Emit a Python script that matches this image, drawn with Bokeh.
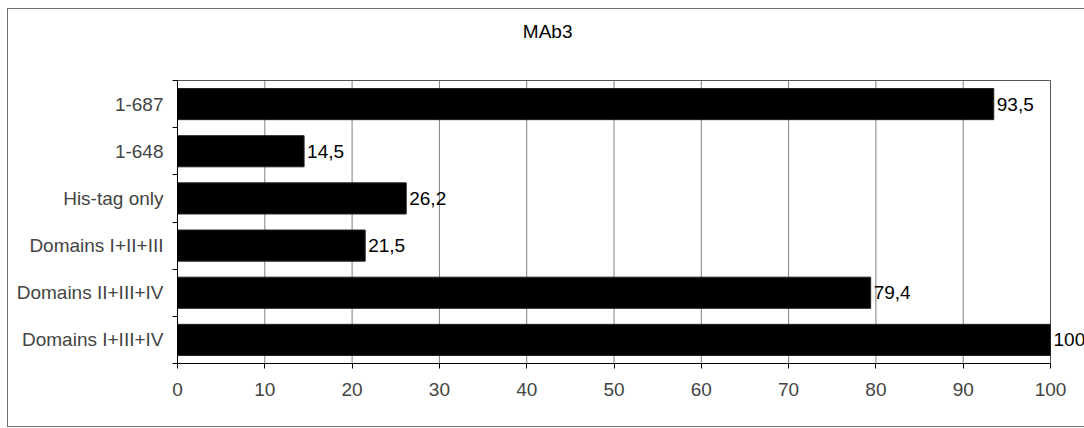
from bokeh.plotting import figure
from bokeh.models import ColumnDataSource, FixedTicker, Range1d
from bokeh.core.properties import value
from bokeh.embed import file_html
from bokeh.resources import INLINE

title_text = "MAb3"
categories = ["1-687", "1-648", "His-tag only", "Domains I+II+III",
              "Domains II+III+IV", "Domains I+III+IV"]
values = [93.5, 14.5, 26.2, 21.5, 79.4, 100]
value_labels = ["93,5", "14,5", "26,2", "21,5", "79,4", "100"]
x_ticks = [0, 10, 20, 30, 40, 50, 60, 70, 80, 90, 100]

FONT = "Liberation Sans"
FS = "19px"

n = len(categories)
x_max = x_ticks[-1]
ypos = [n - 1 - i + 0.5 for i in range(n)]
src = ColumnDataSource(dict(y=ypos, v=values, lab=value_labels, cat=categories))

# frame: left 177, right 1084, top 9, bottom 363 (page px)
FRAME_W, FRAME_H = 907, 354
PLOT_W, PLOT_H = 873, 283          # the 0..100 x 0..6 area
x_end = FRAME_W / (PLOT_W / x_max)
y_end = FRAME_H / (PLOT_H / n)

p = figure(width=1076, height=417, output_backend="svg", toolbar_location=None,
           x_range=Range1d(0, x_end), y_range=Range1d(0, y_end),
           min_border_left=169, min_border_right=0, min_border_top=0,
           min_border_bottom=63, frame_width=FRAME_W, frame_height=FRAME_H)

# grid lines (inside plot area only)
inner = x_ticks[1:-1]
p.segment(x0=inner, y0=[0] * len(inner), x1=inner, y1=[n] * len(inner),
          line_color="#808080", line_width=1)
# plot-area outline: top and right
p.segment(x0=[0, x_max], y0=[n, 0], x1=[x_max, x_max], y1=[n, n],
          line_color="#555555", line_width=1)

p.hbar(y="y", right="v", left=0, height=0.66, source=src,
       fill_color="black", line_color="#222222", line_width=1)
p.text(x="v", y="y", text="lab", source=src, x_offset=3,
       text_baseline="middle", text_align="left",
       text_font=value(FONT), text_font_size=FS, text_color="black")

# chart title, centred over the whole chart box
p.text(x=[42.4], y=[7.04], text=[title_text], text_align="center",
       text_baseline="middle", text_font=value(FONT), text_font_size=FS,
       text_color="black")

# x axis
xa = p.xaxis[0]
xa.bounds = (0, x_max)
xa.ticker = FixedTicker(ticks=x_ticks)
xa.major_tick_out = 5
xa.major_tick_in = 0
xa.minor_tick_line_color = None
xa.axis_line_color = "black"
xa.major_tick_line_color = "black"
xa.major_label_text_font = FONT
xa.major_label_text_font_size = FS
xa.major_label_standoff = 14

# y axis
ya = p.yaxis[0]
ya.bounds = (0, n)
ya.ticker = FixedTicker(ticks=ypos, minor_ticks=list(range(n + 1)))
ya.major_label_overrides = {y: c for y, c in zip(ypos, categories)}
ya.major_tick_line_color = None
ya.minor_tick_line_color = "black"
ya.minor_tick_out = 5
ya.minor_tick_in = 0
ya.axis_line_color = "black"
ya.major_label_text_font = FONT
ya.major_label_text_font_size = FS
ya.major_label_standoff = 8

p.xgrid.visible = False
p.ygrid.visible = False
p.outline_line_color = None
p.background_fill_color = "white"
p.border_fill_color = "white"
p.styles = {"border": "1px solid #707070", "margin-left": "7px", "margin-top": "8px"}

open("out.html", "w").write(file_html(p, INLINE))
